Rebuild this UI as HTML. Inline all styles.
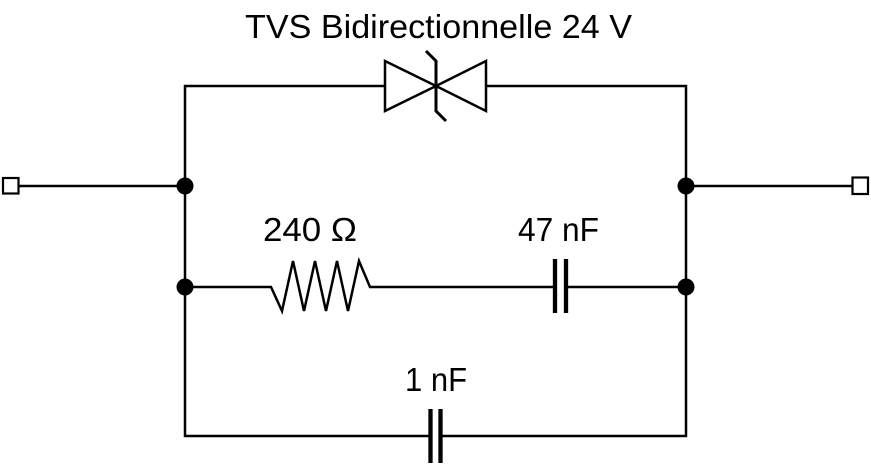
<!DOCTYPE html>
<html>
<head>
<meta charset="utf-8">
<style>
html,body{margin:0;padding:0;background:#fff;}
svg{display:block;}
text{font-family:"Liberation Sans",Arial,sans-serif;fill:#000;}
</style>
</head>
<body>
<svg width="871" height="464" viewBox="0 0 871 464" xmlns="http://www.w3.org/2000/svg">
<g fill="none" stroke="#000" stroke-width="2.5" stroke-linejoin="miter">
  <!-- outer frame -->
  <polyline points="385,86 185,86 185,436 430,436"/>
  <polyline points="486,86 686,86 686,436 441,436"/>
  <!-- terminals -->
  <line x1="19" y1="186" x2="185" y2="186"/>
  <line x1="686" y1="186" x2="852" y2="186"/>
  <rect x="3" y="178" width="15.5" height="15.5" stroke-width="2.2" fill="#fff"/>
  <rect x="852.5" y="177.5" width="15.5" height="16.5" stroke-width="2.2" fill="#fff"/>
  <!-- middle branch -->
  <polyline points="185,287 271,287 282,311 293,261 304,311 315,261 326,311 337,261 348,311 359,261 370,287 555,287"/>
  <line x1="566" y1="287" x2="686" y2="287"/>
  <!-- TVS -->
  <polygon points="385,61 385,111 436,86"/>
  <polygon points="486,61 486,111 436,86"/>
  <polyline points="426,51 436,61 436,111 446,121" stroke-width="3"/>
</g>
<g stroke="#000" stroke-width="4.3">
  <line x1="555" y1="259" x2="555" y2="313"/>
  <line x1="566" y1="259" x2="566" y2="313"/>
  <line x1="430.5" y1="409" x2="430.5" y2="463"/>
  <line x1="440.5" y1="409" x2="440.5" y2="463"/>
</g>
<g fill="#000">
  <circle cx="185" cy="186" r="8.5"/>
  <circle cx="185" cy="287" r="8.5"/>
  <circle cx="686" cy="186" r="8.5"/>
  <circle cx="686" cy="287" r="8.5"/>
</g>
<text x="245" y="38" font-size="33" textLength="387" lengthAdjust="spacingAndGlyphs">TVS Bidirectionnelle 24 V</text>
<text x="263" y="241" font-size="33" textLength="94" lengthAdjust="spacingAndGlyphs">240 Ω</text>
<text x="518" y="241" font-size="33" textLength="81" lengthAdjust="spacingAndGlyphs">47 nF</text>
<text x="405" y="391" font-size="33" textLength="62" lengthAdjust="spacingAndGlyphs">1 nF</text>
</svg>
</body>
</html>
